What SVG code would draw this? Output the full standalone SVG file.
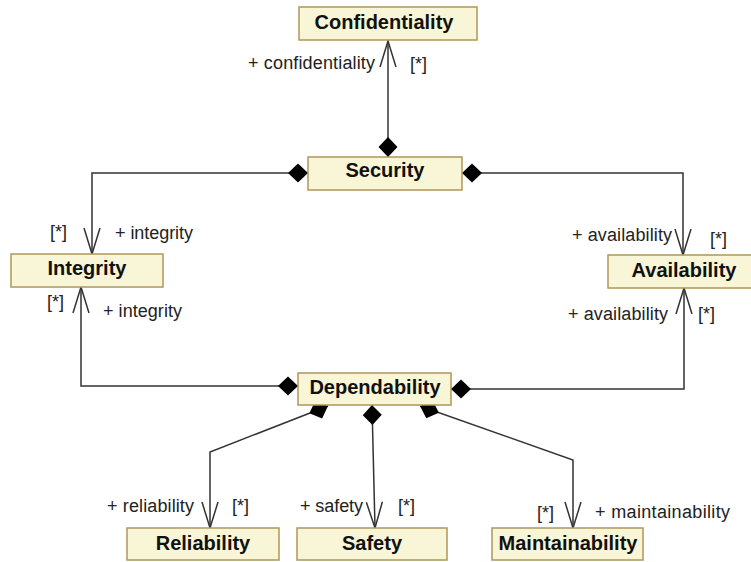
<svg xmlns="http://www.w3.org/2000/svg" width="751" height="562" viewBox="0 0 751 562">
  <style>
    .cls rect { fill: #f8f6d6; stroke: #b0965a; stroke-width: 1.5; }
    .cls text { font-family: "Liberation Sans", Arial, sans-serif; font-size: 20px; font-weight: bold; fill: #111; text-anchor: middle; }
    .edge { fill: none; stroke: #333; stroke-width: 1.5; marker-start: url(#composite); marker-end: url(#navigable); }
    .role { font-family: "Liberation Sans", Arial, sans-serif; font-size: 18px; fill: #222; }
  </style>
  <defs>
    <!-- filled diamond: composite aggregation at the owner end -->
    <marker id="composite" markerUnits="userSpaceOnUse" markerWidth="24" markerHeight="24" refX="0" refY="0" viewBox="-2 -12 24 24" orient="auto" overflow="visible">
      <path d="M0,0 L10,-9.5 L20,0 L10,9.5 Z" fill="#000"/>
    </marker>
    <!-- open arrowhead: navigable end -->
    <marker id="navigable" markerUnits="userSpaceOnUse" markerWidth="30" markerHeight="20" refX="0" refY="0" viewBox="-28 -10 30 20" orient="auto" overflow="visible">
      <path d="M-26,-8 L0,0 L-26,8" fill="none" stroke="#333" stroke-width="1.5"/>
    </marker>
  </defs>

  <rect width="751" height="562" fill="#fff"/>

  <g id="connectors">
    <path class="edge" d="M388,157 L388,41"/>
    <path class="edge" d="M308,173 L92,173 L92,254"/>
    <path class="edge" d="M462,173 L683,173 L683,255"/>
    <path class="edge" d="M298,386 L81,386 L81,287"/>
    <path class="edge" d="M451,389 L684,389 L684,288"/>
    <path class="edge" d="M328,406 L210,452 L210,528"/>
    <path class="edge" d="M372,405 L375,528"/>
    <path class="edge" d="M420,406 L573,460 L573,528"/>

    <text class="role" x="248" y="69" textLength="127" lengthAdjust="spacing">+ confidentiality</text>
    <text class="role" x="410" y="70">[*]</text>
    <text class="role" x="50" y="238">[*]</text>
    <text class="role" x="115" y="239" textLength="78" lengthAdjust="spacing">+ integrity</text>
    <text class="role" x="47" y="308">[*]</text>
    <text class="role" x="103" y="317" textLength="79" lengthAdjust="spacing">+ integrity</text>
    <text class="role" x="572" y="241" textLength="100" lengthAdjust="spacing">+ availability</text>
    <text class="role" x="710" y="245">[*]</text>
    <text class="role" x="568" y="320" textLength="100" lengthAdjust="spacing">+ availability</text>
    <text class="role" x="698" y="320">[*]</text>
    <text class="role" x="107" y="512" textLength="87" lengthAdjust="spacing">+ reliability</text>
    <text class="role" x="232" y="512">[*]</text>
    <text class="role" x="300" y="512" textLength="63" lengthAdjust="spacing">+ safety</text>
    <text class="role" x="398" y="512">[*]</text>
    <text class="role" x="537" y="519">[*]</text>
    <text class="role" x="595" y="518" textLength="135" lengthAdjust="spacing">+ maintainability</text>
  </g>

  <g id="Confidentiality" class="cls">
    <rect x="299" y="7" width="178" height="33"/>
    <text x="384" y="29">Confidentiality</text>
  </g>
  <g id="Security" class="cls">
    <rect x="308" y="157" width="154" height="33"/>
    <text x="385" y="177">Security</text>
  </g>
  <g id="Integrity" class="cls">
    <rect x="11" y="254" width="152" height="33"/>
    <text x="87" y="275">Integrity</text>
  </g>
  <g id="Availability" class="cls">
    <rect x="608" y="255" width="152" height="33"/>
    <text x="684" y="277">Availability</text>
  </g>
  <g id="Dependability" class="cls">
    <rect x="298" y="373" width="153" height="32"/>
    <text x="375" y="394">Dependability</text>
  </g>
  <g id="Reliability" class="cls">
    <rect x="127" y="528" width="152" height="32"/>
    <text x="203" y="550">Reliability</text>
  </g>
  <g id="Safety" class="cls">
    <rect x="297" y="528" width="150" height="32"/>
    <text x="372" y="550">Safety</text>
  </g>
  <g id="Maintainability" class="cls">
    <rect x="492" y="528" width="151" height="32"/>
    <text x="568" y="550">Maintainability</text>
  </g>
</svg>
